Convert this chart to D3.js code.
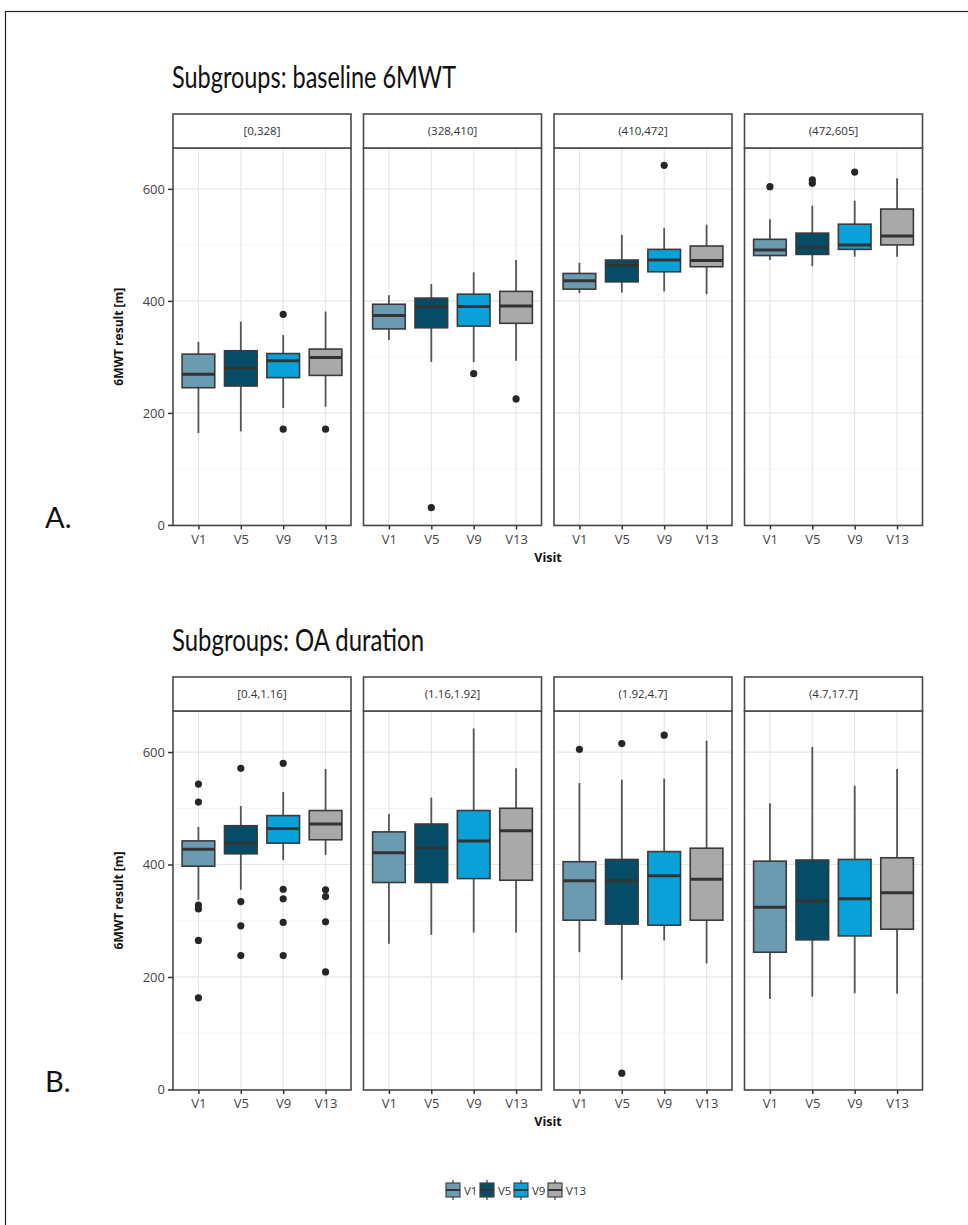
<!DOCTYPE html>
<html>
<head>
<meta charset="utf-8">
<script src="https://cdn.jsdelivr.net/npm/d3@7"></script>
<style>
  html, body { margin: 0; padding: 0; background: #fff; }
  svg { display: block; }
</style>
</head>
<body>
<svg id="chart" width="968" height="1225"></svg>
<script>
// ---------------- DATA ----------------
const visits = ["V1", "V5", "V9", "V13"];
const visitColors = ["#6b9bb1", "#054c66", "#0aa1d9", "#a9a9a9"];
const yTicks = [0, 200, 400, 600];
const yMinorTicks = [100, 300, 500];

const titleA = "Subgroups: baseline 6MWT";
const titleB = "Subgroups: OA duration";
const stripsA = ["[0,328]", "(328,410]", "(410,472]", "(472,605]"];
const stripsB = ["[0.4,1.16]", "(1.16,1.92]", "(1.92,4.7]", "(4.7,17.7]"];

// box stats per visit: [lower whisker, Q1, median, Q3, upper whisker]
const boxesA1 = [[164, 245, 269, 305, 327], [167, 248, 280, 311, 363], [209, 263, 293, 306, 339], [211, 267, 299, 314, 381]];
const boxesA2 = [[330, 350, 374, 394, 410], [291, 352, 390, 405, 430], [291, 355, 390, 412, 451], [293, 360, 391, 417, 473]];
const boxesA3 = [[414, 421, 436, 449, 468], [415, 434, 463, 473, 518], [417, 452, 473, 492, 530], [412, 461, 472, 498, 536]];
const boxesA4 = [[473, 481, 491, 510, 546], [462, 483, 496, 521, 570], [479, 492, 500, 537, 579], [479, 500, 516, 564, 619]];
const outliersA1 = [[], [], [376, 171], [171]];
const outliersA2 = [[], [31], [270], [225]];
const outliersA3 = [[], [], [642], []];
const outliersA4 = [[604], [616, 610], [630], []];

const boxesB1 = [[337, 397, 427, 442, 467], [355, 419, 438, 469, 504], [408, 438, 464, 487, 529], [417, 444, 472, 496, 570]];
const boxesB2 = [[259, 368, 421, 458, 490], [275, 368, 430, 472, 519], [279, 375, 442, 496, 642], [279, 372, 460, 500, 571]];
const boxesB3 = [[244, 301, 371, 405, 545], [195, 294, 371, 409, 551], [265, 292, 380, 423, 553], [224, 301, 374, 429, 620]];
const boxesB4 = [[161, 244, 324, 406, 509], [165, 266, 335, 408, 609], [171, 273, 339, 409, 540], [170, 285, 350, 412, 570]];
const outliersB1 = [[543, 511, 328, 321, 265, 163], [571, 334, 291, 238], [580, 356, 339, 297, 238], [355, 343, 298, 209]];
const outliersB2 = [[], [], [], []];
const outliersB3 = [[605], [615, 29], [630], []];
const outliersB4 = [[], [], [], []];

// ---------------- LAYOUT ----------------
const svg = d3.select("#chart");
const panelLeft0 = 173, panelW = 178, panelStep = 190.5;
const yDomain = [-1, 673];
const textFont = "'Open Sans', 'Noto Sans', sans-serif";
const titleFont = "Lato, 'Noto Sans', sans-serif";

// outer frame
svg.append("rect").attr("x", 5.5).attr("y", 11.5).attr("width", 1000).attr("height", 1300)
  .attr("fill", "none").attr("stroke", "#222").attr("stroke-width", 1.2);

function drawSection(cfg) {
  const y = d3.scaleLinear().domain(yDomain).range([cfg.bottom, cfg.top]);
  const g = svg.append("g");

  // title
  g.append("text").attr("x", 172).attr("y", cfg.titleY)
    .attr("font-family", titleFont).attr("font-size", 31).attr("fill", "#111")
    .attr("textLength", cfg.titleLen).attr("lengthAdjust", "spacingAndGlyphs")
    .text(cfg.title);

  // section label
  g.append("text").attr("x", 45).attr("y", cfg.labelY)
    .attr("font-family", titleFont).attr("font-size", 29).attr("fill", "#111")
    .text(cfg.label);

  cfg.boxes.forEach((boxes, pi) => {
    const x0 = panelLeft0 + pi * panelStep;
    const x = d3.scalePoint().domain(visits).range([x0, x0 + panelW]).padding(0.6);
    const bw = x.step() * 0.77;
    const p = g.append("g");

    // grid
    p.selectAll(".minor").data(yMinorTicks).enter().append("line")
      .attr("x1", x0).attr("x2", x0 + panelW).attr("y1", d => y(d)).attr("y2", d => y(d))
      .attr("stroke", "#f3f3f3").attr("stroke-width", 1);
    p.selectAll(".major").data(yTicks).enter().append("line")
      .attr("x1", x0).attr("x2", x0 + panelW).attr("y1", d => y(d)).attr("y2", d => y(d))
      .attr("stroke", "#e6e6e6").attr("stroke-width", 1.2);
    p.selectAll(".vgrid").data(visits).enter().append("line")
      .attr("x1", d => x(d)).attr("x2", d => x(d)).attr("y1", cfg.top).attr("y2", cfg.bottom)
      .attr("stroke", "#e6e6e6").attr("stroke-width", 1.2);

    // boxes
    boxes.forEach((s, vi) => {
      const cx = x(visits[vi]);
      const bg = p.append("g");
      bg.append("line").attr("x1", cx).attr("x2", cx).attr("y1", y(s[4])).attr("y2", y(s[3]))
        .attr("stroke", "#555").attr("stroke-width", 1.8);
      bg.append("line").attr("x1", cx).attr("x2", cx).attr("y1", y(s[1])).attr("y2", y(s[0]))
        .attr("stroke", "#555").attr("stroke-width", 1.8);
      bg.append("rect").attr("x", cx - bw / 2).attr("width", bw)
        .attr("y", y(s[3])).attr("height", y(s[1]) - y(s[3]))
        .attr("fill", visitColors[vi]).attr("stroke", "#3a3a3a").attr("stroke-width", 1.6);
      bg.append("line").attr("x1", cx - bw / 2).attr("x2", cx + bw / 2).attr("y1", y(s[2])).attr("y2", y(s[2]))
        .attr("stroke", "#333").attr("stroke-width", 3);
      bg.selectAll("circle").data(cfg.outliers[pi][vi]).enter().append("circle")
        .attr("cx", cx).attr("cy", d => y(d)).attr("r", 3.6).attr("fill", "#262626");
    });

    // panel border
    p.append("rect").attr("x", x0).attr("y", cfg.top).attr("width", panelW).attr("height", cfg.bottom - cfg.top)
      .attr("fill", "none").attr("stroke", "#4a4a4a").attr("stroke-width", 1.6);

    // strip
    p.append("rect").attr("x", x0).attr("y", cfg.stripTop).attr("width", panelW).attr("height", cfg.top - cfg.stripTop)
      .attr("fill", "#fff").attr("stroke", "#4a4a4a").attr("stroke-width", 1.6);
    p.append("text").attr("x", x0 + panelW / 2).attr("y", (cfg.stripTop + cfg.top) / 2 + 4)
      .attr("text-anchor", "middle").attr("font-family", textFont).attr("font-size", 11.5)
      .attr("fill", "#333").text(cfg.strips[pi]);

    // x axis
    const xa = p.append("g").attr("transform", `translate(0,${cfg.bottom})`)
      .call(d3.axisBottom(x).tickSize(4).tickSizeOuter(0).tickPadding(5));
    xa.select(".domain").remove();
    xa.selectAll("line").attr("stroke", "#333").attr("stroke-width", 1.5);
    xa.selectAll("text").attr("font-family", textFont).attr("font-size", 13).attr("fill", "#444");

    if (pi === 0) {
      const ya = p.append("g").attr("transform", `translate(${x0},0)`)
        .call(d3.axisLeft(y).tickValues(yTicks).tickSize(5).tickSizeOuter(0).tickPadding(3));
      ya.select(".domain").remove();
      ya.selectAll("line").attr("stroke", "#333").attr("stroke-width", 1.5);
      ya.selectAll("text").attr("font-family", textFont).attr("font-size", 13).attr("fill", "#444");
    }
  });

  // axis titles
  g.append("text").attr("x", 548).attr("y", cfg.bottom + 36).attr("text-anchor", "middle")
    .attr("font-family", textFont).attr("font-size", 12.5).attr("font-weight", "bold").attr("fill", "#111")
    .text("Visit");
  g.append("text").attr("transform", `translate(123,${(cfg.top + cfg.bottom) / 2}) rotate(-90)`)
    .attr("text-anchor", "middle").attr("font-family", textFont).attr("font-size", 12)
    .attr("font-weight", "bold").attr("fill", "#111").text("6MWT result [m]");
}

drawSection({ title: titleA, titleY: 88, titleLen: 284, label: "A.", labelY: 528,
  strips: stripsA, boxes: [boxesA1, boxesA2, boxesA3, boxesA4],
  outliers: [outliersA1, outliersA2, outliersA3, outliersA4],
  stripTop: 114, top: 148, bottom: 525.5 });

drawSection({ title: titleB, titleY: 651, titleLen: 252, label: "B.", labelY: 1092,
  strips: stripsB, boxes: [boxesB1, boxesB2, boxesB3, boxesB4],
  outliers: [outliersB1, outliersB2, outliersB3, outliersB4],
  stripTop: 677, top: 711, bottom: 1090 });

// legend
const legend = svg.append("g");
const legendX = [446, 480, 514, 548];
visits.forEach((v, i) => {
  const lx = legendX[i], cy = 1190;
  const k = legend.append("g");
  k.append("line").attr("x1", lx + 7).attr("x2", lx + 7).attr("y1", cy - 10).attr("y2", cy + 10)
    .attr("stroke", "#555").attr("stroke-width", 1.4);
  k.append("rect").attr("x", lx).attr("y", cy - 7).attr("width", 14).attr("height", 14)
    .attr("fill", visitColors[i]).attr("stroke", "#444").attr("stroke-width", 1.2);
  k.append("line").attr("x1", lx).attr("x2", lx + 14).attr("y1", cy).attr("y2", cy)
    .attr("stroke", "#333").attr("stroke-width", 2);
  legend.append("text").attr("x", lx + 18).attr("y", cy + 4.5)
    .attr("font-family", textFont).attr("font-size", 11.5).attr("fill", "#333").text(v);
});
</script>
</body>
</html>
